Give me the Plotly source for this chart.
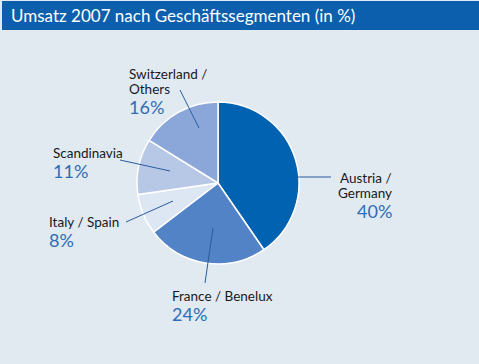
import plotly.graph_objects as go

# ---- data ----
segments = ["Austria / Germany", "France / Benelux", "Italy / Spain", "Scandinavia", "Switzerland / Others"]
label_lines = [["Austria /", "Germany"], ["France / Benelux"], ["Italy / Spain"], ["Scandinavia"], ["Switzerland /", "Others"]]
shares = [40, 24, 8, 11, 16]
title_text = "Umsatz 2007 nach Geschäftssegmenten (in %)"

# ---- style ----
W, H = 479, 364
BG = "#e1e9f1"
BAR = "#0b5fad"
colors = ["#0062b1", "#5183c6", "#dde6f3", "#b7c8e7", "#8ba7d9"]
FONT = "Lato"
TXT = "#1a1a1a"
PCT = "#2f6db5"
LINE = "#2a5d9c"

cx, cy, r = 218, 183, 81  # pixel geometry of the pie

def px(x):
    return x / W

def py(y):
    return 1 - y / H

fig = go.Figure()
fig.add_trace(go.Pie(
    labels=segments, values=shares, sort=False, direction="clockwise", rotation=0,
    marker=dict(colors=colors, line=dict(color="white", width=1.5)),
    textinfo="none", hoverinfo="label+percent", showlegend=False,
    domain=dict(x=[px(cx - r), px(cx + r)], y=[py(cy + r), py(cy - r)]),
))

# label layout: (leader start px, leader end px, text x px, first-line y px, xanchor)
label_layout = [
    dict(l=((298, 177), (331, 177)), x=394, y=178, anchor="right"),
    dict(l=((213, 228), (205, 283)), x=170, y=296, anchor="left"),
    dict(l=((173, 201), (126, 222)), x=47, y=222, anchor="left"),
    dict(l=((170, 171), (120, 160)), x=51, y=153, anchor="left"),
    dict(l=((199, 128), (180, 90)), x=127, y=74, anchor="left"),
]

shapes = [dict(type="rect", xref="paper", yref="paper", x0=px(2), x1=1, y0=py(30), y1=py(1),
               fillcolor=BAR, line=dict(width=0), layer="below")]
annotations = [dict(text=title_text, xref="paper", yref="paper", x=px(9), y=py(16),
                    xanchor="left", yanchor="middle", showarrow=False,
                    font=dict(family=FONT, size=17, color="white"))]

for seg_lines, val, lay in zip(label_lines, shares, label_layout):
    (x0, y0), (x1, y1) = lay["l"]
    shapes.append(dict(type="line", xref="paper", yref="paper", x0=px(x0), y0=py(y0),
                       x1=px(x1), y1=py(y1), line=dict(color=LINE, width=1)))
    y = lay["y"]
    for ln in seg_lines:
        annotations.append(dict(text=ln, xref="paper", yref="paper", x=px(lay["x"]), y=py(y),
                                xanchor=lay["anchor"], yanchor="middle", showarrow=False,
                                font=dict(family=FONT, size=13.5, color=TXT)))
        y += 15
    annotations.append(dict(text=f"{val}%", xref="paper", yref="paper", x=px(lay["x"]), y=py(y + 3),
                            xanchor=lay["anchor"], yanchor="middle", showarrow=False,
                            font=dict(family=FONT, size=18, color=PCT)))

fig.update_layout(
    width=W, height=H, margin=dict(l=0, r=0, t=0, b=0),
    paper_bgcolor=BG, plot_bgcolor=BG,
    shapes=shapes, annotations=annotations,
)
fig.write_html("out.html", config={"displayModeBar": False},
               post_script="document.body.style.margin='0';document.body.style.padding='0';document.body.style.overflow='hidden';")
